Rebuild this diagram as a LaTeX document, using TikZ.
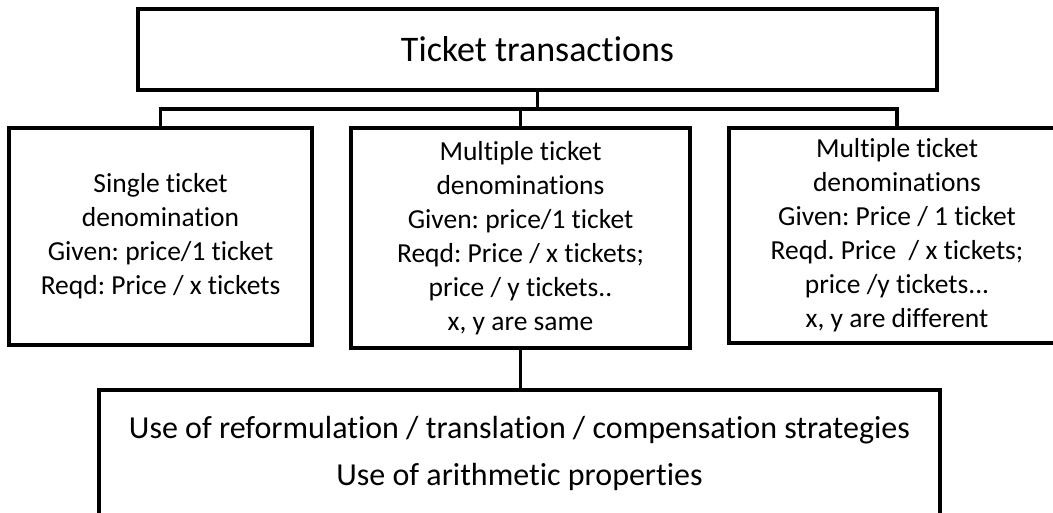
\documentclass[tikz,border=0pt]{standalone}
\usepackage{fontspec}
\setmainfont{Carlito}[Ligatures=NoCommon]
\frenchspacing
\begin{document}
\begin{tikzpicture}[x=1pt,y=-1pt,
  box/.style={draw=black,line width=3.5pt,fill=white,align=center,inner sep=0pt,
    font=\fontsize{27.5}{34}\selectfont},
  conn/.style={draw=black,line width=3.5pt}]
\useasboundingbox (0,0) rectangle (1053,512);
\clip (0,0) rectangle (1053,512);
\node[box,minimum width=799,minimum height=81,font=\fontsize{36}{40}\selectfont] (top) at (537.5,49.5) {Ticket transactions};
\node[box,minimum width=303,minimum height=217] (left) at (160.5,236.5)
  {Single ticket\\denomination\\Given: price/1 ticket\\Reqd: Price / x tickets};
\node[box,minimum width=339,minimum height=220] (mid) at (520.5,238)
  {Multiple ticket\\denominations\\Given: price/1 ticket\\Reqd: Price / x tickets;\\price / y tickets..\\x, y are same};
\node[box,minimum width=336,minimum height=215] (right) at (897,235.5)
  {Multiple ticket\\denominations\\Given: Price / 1 ticket\\Reqd. Price~~/ x tickets;\\price /y tickets...\\x, y are different};
\node[box,minimum width=841,minimum height=126,font=\fontsize{32}{47}\selectfont] (bottom) at (519.5,453)
  {Use of reformulation / translation / compensation strategies\\Use of arithmetic properties};
\coordinate (bus) at (537.5,109);
\draw[conn] (top.south) -- (bus);
\draw[conn] (left.north) |- (bus) -| (right.north);
\draw[conn] (mid.north) -- (mid.north |- bus);
\draw[conn] (mid.south) -- (bottom.north -| mid.south);
\end{tikzpicture}
\end{document}
